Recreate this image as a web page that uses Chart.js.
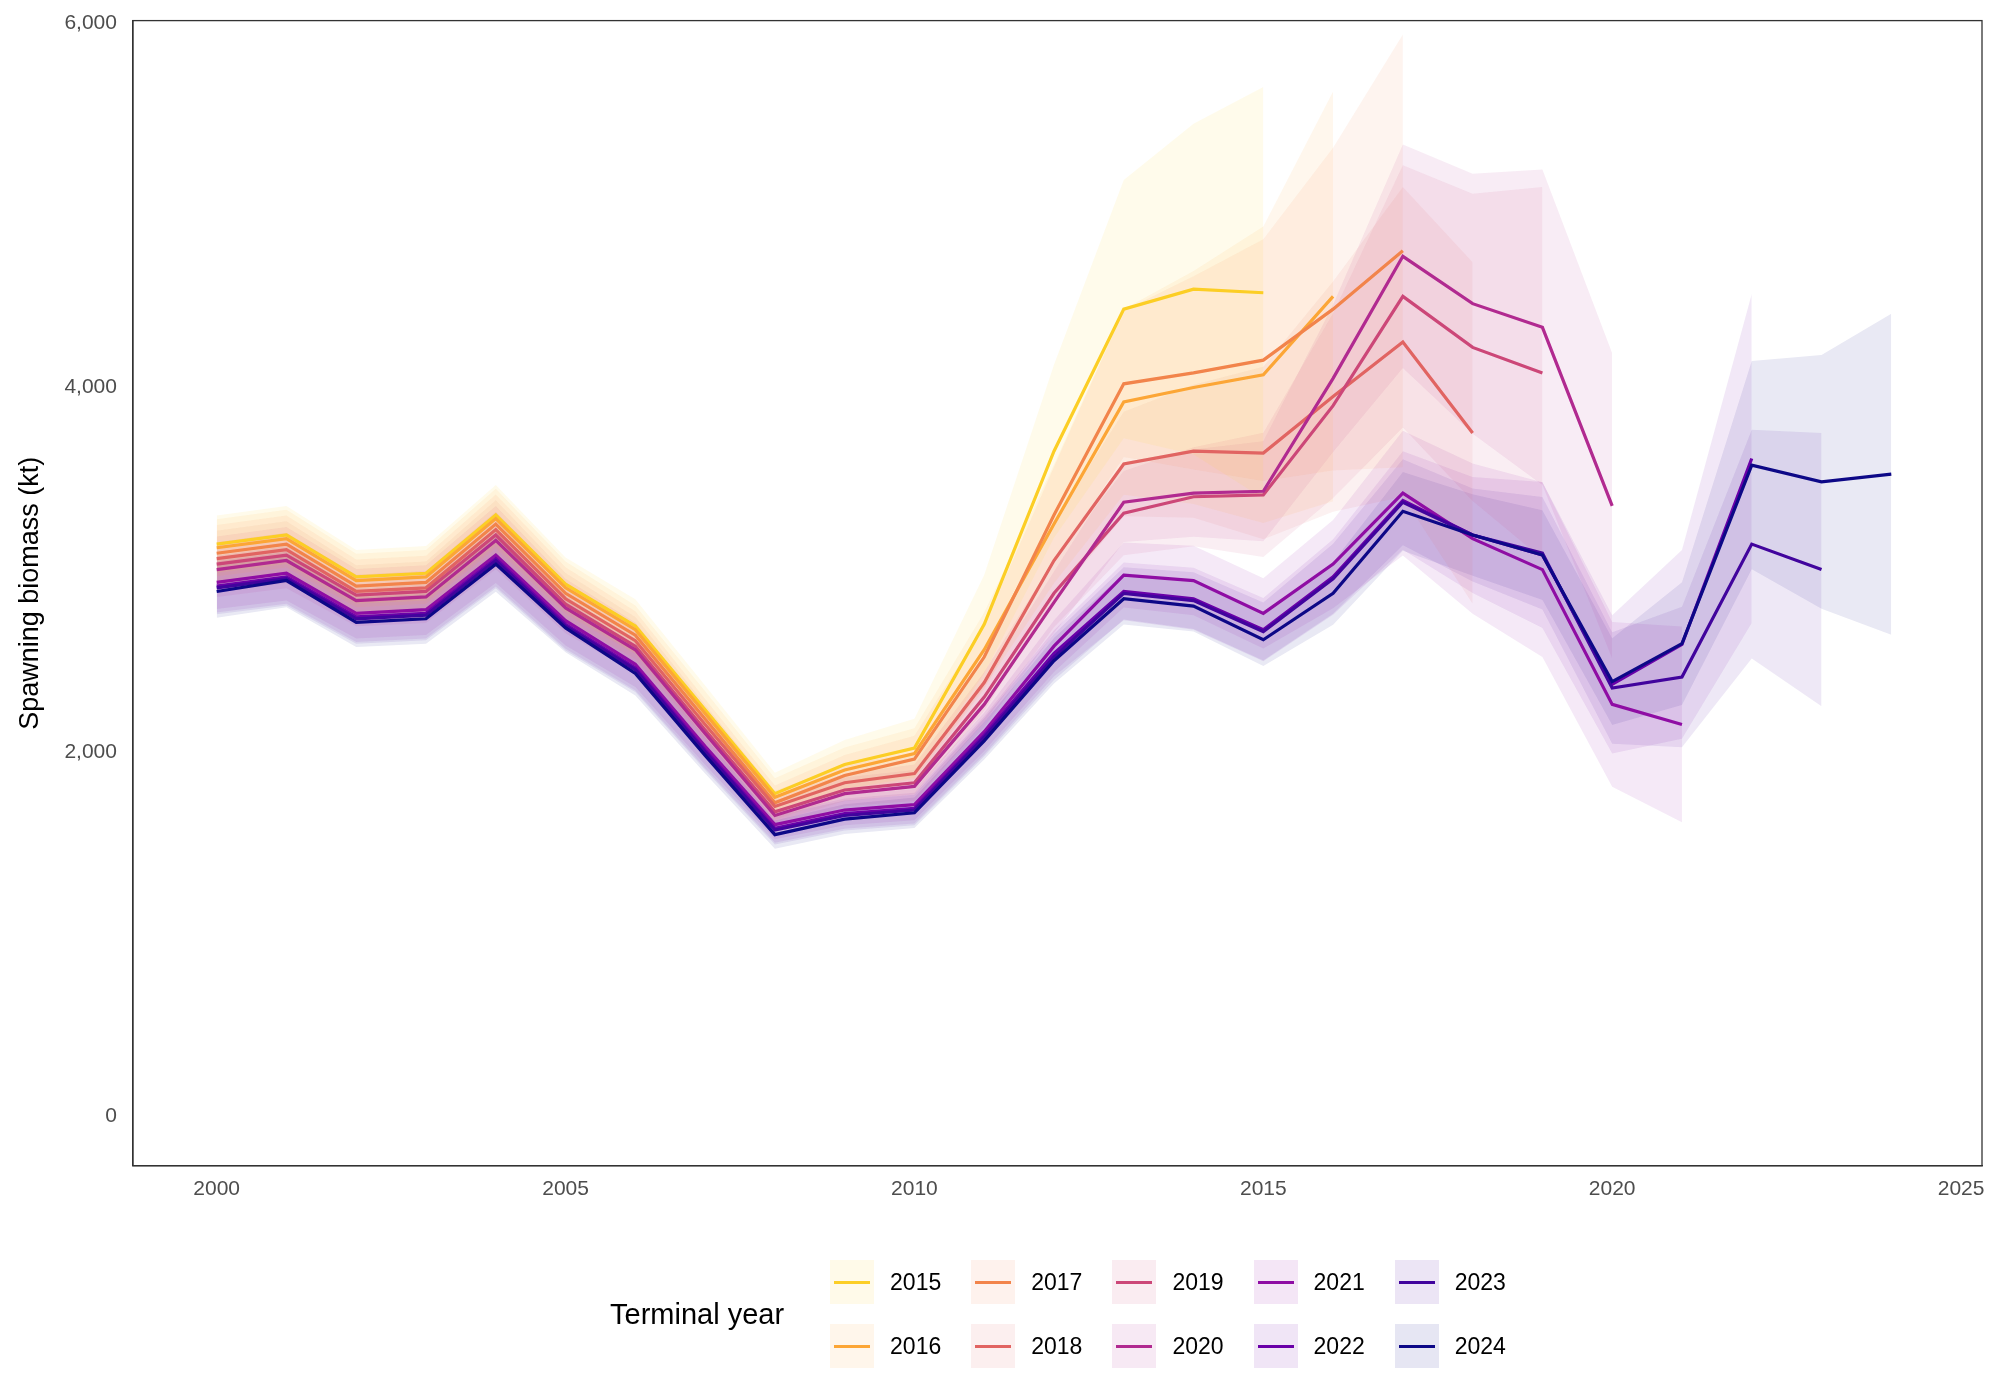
<!DOCTYPE html>
<html>
<head>
<meta charset="utf-8">
<script src="https://cdn.jsdelivr.net/npm/chart.js@4.4.1/dist/chart.umd.min.js"></script>
<style>
  body { margin: 0; background: #fff; font-family: "Liberation Sans", Arial, sans-serif; }
  #wrap { position: relative; width: 2000px; height: 1400px; }
  #legend { position: absolute; left: 610px; top: 1250px; display: flex; align-items: center; }
  #legend .title { font-size: 29px; color: #000; margin-right: 46px; }
  #legend .grid { display: grid; grid-template-rows: 64px 64px; grid-auto-flow: column; }
  #legend .item { display: flex; align-items: center; font-size: 23px; margin-right: 30px; }
  #legend .key { width: 44px; height: 44px; margin-right: 16px; position: relative; }
  #legend .key span { position: absolute; left: 4px; right: 4px; top: 21px; height: 3px; }
</style>
</head>
<body>
<div id="wrap">
  <canvas id="chart" width="2000" height="1400"></canvas>
  <div id="legend"><div class="title">Terminal year</div><div class="grid" id="items"></div></div>
</div>
<script>
let years = [];
for (let y = 2000; y <= 2024; y++) years.push(y);

let terminalYears = [2015, 2016, 2017, 2018, 2019, 2020, 2021, 2022, 2023, 2024];
let colors = ['#FCCE25', '#FCA636', '#F2844B', '#E16462', '#CC4778', '#B12A90', '#8F0DA4', '#6A00A8', '#41049D', '#0D0887'];

// spawning biomass (kt) by terminal year, from 2000 onwards
let sb2015 = [3140, 3190, 2960, 2980, 3300, 2920, 2690, 2230, 1770, 1930, 2020, 2700, 3650, 4430, 4540, 4520];
let sb2016 = [3120, 3170, 2940, 2960, 3280, 2900, 2670, 2210, 1750, 1900, 1990, 2560, 3250, 3920, 4000, 4070, 4500];
let sb2017 = [3090, 3140, 2910, 2930, 3250, 2870, 2640, 2180, 1720, 1870, 1960, 2520, 3300, 4020, 4080, 4150, 4430, 4750];
let sb2018 = [3060, 3110, 2880, 2900, 3220, 2840, 2610, 2150, 1700, 1830, 1880, 2380, 3050, 3580, 3650, 3640, 3950, 4250, 3750];
let sb2019 = [3030, 3080, 2860, 2880, 3190, 2810, 2580, 2120, 1670, 1790, 1830, 2300, 2870, 3310, 3400, 3410, 3900, 4500, 4220, 4080];
let sb2020 = [3000, 3050, 2830, 2850, 3160, 2790, 2560, 2100, 1650, 1770, 1810, 2260, 2820, 3370, 3420, 3430, 4050, 4720, 4460, 4330, 3350];
let sb2021 = [2930, 2980, 2760, 2780, 3080, 2720, 2480, 2030, 1600, 1680, 1710, 2110, 2580, 2970, 2940, 2760, 3030, 3420, 3170, 3000, 2260, 2150];
let sb2022 = [2910, 2960, 2740, 2760, 3060, 2700, 2460, 2010, 1580, 1660, 1690, 2090, 2540, 2880, 2840, 2670, 2960, 3380, 3190, 3080, 2370, 2590, 3610];
let sb2023 = [2900, 2950, 2730, 2750, 3050, 2690, 2450, 2000, 1570, 1650, 1680, 2080, 2520, 2870, 2830, 2660, 2950, 3370, 3190, 3090, 2350, 2410, 3140, 3000];
let sb2024 = [2880, 2940, 2710, 2730, 3030, 2680, 2430, 1980, 1545, 1630, 1665, 2060, 2500, 2840, 2800, 2615, 2870, 3320, 3190, 3080, 2385, 2594, 3573, 3482, 3524];
let series = [sb2015, sb2016, sb2017, sb2018, sb2019, sb2020, sb2021, sb2022, sb2023, sb2024];

// approx half-width of the 95% band as a fraction, by years back from the terminal year
let bandByAge = [0.25, 0.2, 0.16, 0.13, 0.1, 0.08, 0.07, 0.065, 0.06, 0.055, 0.05];

function rgba(hex, a) {
    let n = parseInt(hex.slice(1), 16);
    return 'rgba(' + (n >> 16) + ',' + ((n >> 8) & 255) + ',' + (n & 255) + ',' + a + ')';
}

let datasets = [];
series.forEach((vals, i) => {
    let last = vals.length - 1;
    let lo = vals.map((v, j) => ({ x: years[j], y: v * (1 - bandByAge[Math.min(last - j, bandByAge.length - 1)]) }));
    let hi = vals.map((v, j) => ({ x: years[j], y: v * (1 + bandByAge[Math.min(last - j, bandByAge.length - 1)]) }));
    datasets.push({ data: lo, borderWidth: 0, pointRadius: 0, fill: false, order: 20 });
    datasets.push({ data: hi, borderWidth: 0, pointRadius: 0, fill: '-1', backgroundColor: rgba(colors[i], 0.09), order: 20 });
});
series.forEach((vals, i) => {
    datasets.push({
        label: String(terminalYears[i]),
        data: vals.map((v, j) => ({ x: years[j], y: v })),
        borderColor: colors[i], borderWidth: 3.2, pointRadius: 0, fill: false, order: 10 - i
    });
});

let tickFont = { family: 'Liberation Sans', size: 21 };

new Chart(document.getElementById('chart'), {
    type: 'line',
    data: { datasets: datasets },
    options: {
        responsive: false, animation: false,
        layout: { padding: { left: 10, right: 18, top: 16, bottom: 195 } },
        plugins: { legend: { display: false }, tooltip: { enabled: false } },
        scales: {
            x: {
                type: 'linear', min: 1998.8, max: 2025.3,
                afterBuildTicks: ax => { ax.ticks = [2000, 2005, 2010, 2015, 2020, 2025].map(v => ({ value: v })); },
                grid: { display: false, tickLength: 8, drawTicks: true },
                border: { color: '#333', width: 1.3 },
                ticks: { font: tickFont, color: '#4d4d4d', callback: v => String(v) }
            },
            y: {
                min: -273, max: 6014,
                afterBuildTicks: ax => { ax.ticks = [0, 2000, 4000, 6000].map(v => ({ value: v })); },
                grid: { display: false, tickLength: 8 },
                border: { color: '#333', width: 1.3 },
                ticks: { font: tickFont, color: '#4d4d4d', padding: 8, callback: v => v.toLocaleString('en-US') },
                title: { display: true, text: 'Spawning biomass (kt)', font: { family: 'Liberation Sans', size: 27 }, color: '#000', padding: { bottom: 10 } }
            }
        }
    },
    plugins: [{
        id: 'box',
        afterDraw(c) {
            let a = c.chartArea, g = c.ctx;
            g.save(); g.strokeStyle = '#333'; g.lineWidth = 1.3;
            g.strokeRect(a.left, a.top, a.right - a.left, a.bottom - a.top);
            g.restore();
        }
    }]
});

let items = document.getElementById('items');
terminalYears.forEach((ty, i) => {
    let d = document.createElement('div');
    d.className = 'item';
    d.innerHTML = '<div class="key" style="background:' + rgba(colors[i], 0.1) + '"><span style="background:' + colors[i] + '"></span></div>' + ty;
    items.appendChild(d);
});
</script>
</body>
</html>
